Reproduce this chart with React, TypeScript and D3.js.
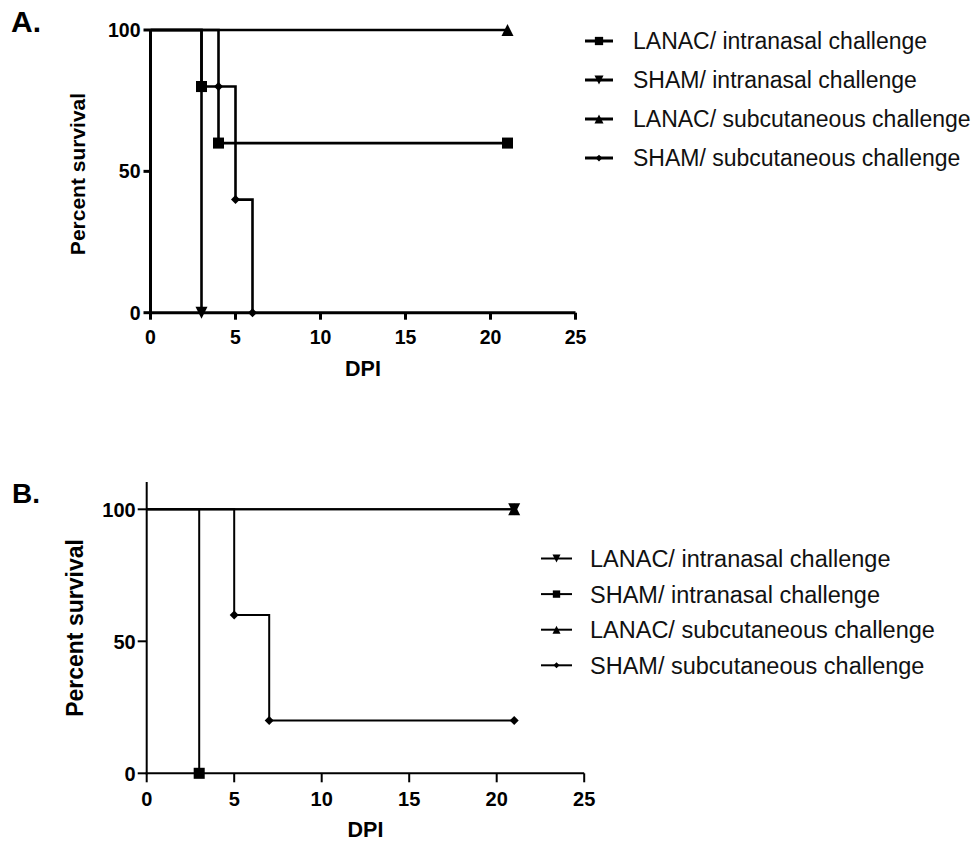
import React from "react";
import * as d3 from "d3";

// ---------- data ----------
const xTickValues = [0, 5, 10, 15, 20, 25];
const yTickValues = [0, 50, 100];

const seriesLabels = [
  "LANAC/ intranasal challenge",
  "SHAM/ intranasal challenge",
  "LANAC/ subcutaneous challenge",
  "SHAM/ subcutaneous challenge",
];

// Panel A
const aLanacInDays = [0, 3, 4, 21];
const aLanacInSurv = [100, 80, 60, 60];
const aShamInDays = [0, 3];
const aShamInSurv = [100, 0];
const aLanacScDays = [0, 21];
const aLanacScSurv = [100, 100];
const aShamScDays = [0, 4, 5, 6];
const aShamScSurv = [100, 80, 40, 0];
const aMarkers = ["square", "triDown", "triUp", "diamond"];

// Panel B
const bLanacInDays = [0, 21];
const bLanacInSurv = [100, 100];
const bShamInDays = [0, 3];
const bShamInSurv = [100, 0];
const bLanacScDays = [0, 21];
const bLanacScSurv = [100, 100];
const bShamScDays = [0, 5, 7, 21];
const bShamScSurv = [100, 60, 20, 20];
const bMarkers = ["triDown", "square", "triUp", "diamond"];

const FONT = "'Liberation Sans', Arial, Helvetica, sans-serif";

function markerPath(kind: string, r: number): string {
  switch (kind) {
    case "square":
      return `M${-r},${-r}h${2 * r}v${2 * r}h${-2 * r}Z`;
    case "triUp":
      return `M0,${-r}L${r},${r}L${-r},${r}Z`;
    case "triDown":
      return `M0,${r}L${r},${-r}L${-r},${-r}Z`;
    case "diamond":
      return `M0,${-r}L${r},0L0,${r}L${-r},0Z`;
  }
  return "";
}

function markerSize(kind: string, base: number) {
  if (kind === "diamond") return base * 0.75;
  if (kind === "square") return base * 0.92;
  return base;
}

type Series = { days: number[]; surv: number[]; marker: string; label: string };

type PanelProps = {
  series: Series[];
  x: d3.ScaleLinear<number, number>;
  y: d3.ScaleLinear<number, number>;
  yTop: number;
  sw: number;
  axisW: number;
  tickLen: number;
  tickFont: number;
  yLabelFont: number;
  yLabelX: number;
  yLabelY: number;
  dpiFont: number;
  dpiY: number;
  xLabelY: number;
  yLabelGap: number;
  markerBase: number;
  letter: string;
  letterX: number;
  letterY: number;
  letterFont: number;
  legendX0: number;
  legendX1: number;
  legendTextX: number;
  legendY0: number;
  legendDy: number;
  legendFont: number;
  legendSw: number;
  legendMarker: number;
};

function Panel(p: PanelProps) {
  const { x, y } = p;
  const line = d3
    .line<[number, number]>()
    .x((d) => x(d[0]))
    .y((d) => y(d[1]))
    .curve(d3.curveStepAfter);
  const x0 = x.range()[0];
  const y0 = y(0);
  return (
    <g>
      <text x={p.letterX} y={p.letterY} fontFamily={FONT} fontWeight="bold" fontSize={p.letterFont}>
        {p.letter}
      </text>
      {p.series.map((s, i) => {
        const pts = s.days.map((d, j) => [d, s.surv[j]] as [number, number]);
        return (
          <path key={"l" + i} d={line(pts) || ""} fill="none" stroke="#000" strokeWidth={p.sw} strokeLinejoin="miter" />
        );
      })}
      <line x1={x0} x2={x0} y1={p.yTop} y2={y0 + p.axisW / 2} stroke="#000" strokeWidth={p.axisW} />
      <line x1={x0 - p.axisW / 2} x2={x.range()[1]} y1={y0} y2={y0} stroke="#000" strokeWidth={p.axisW} />
      {yTickValues.map((t) => (
        <g key={"yt" + t}>
          <line x1={x0 - p.tickLen} x2={x0} y1={y(t)} y2={y(t)} stroke="#000" strokeWidth={p.axisW} />
          <text
            x={x0 - p.tickLen - p.yLabelGap}
            y={y(t) + p.tickFont * 0.36}
            textAnchor="end"
            fontFamily={FONT}
            fontWeight="bold"
            fontSize={p.tickFont}
          >
            {t}
          </text>
        </g>
      ))}
      {xTickValues.map((t) => (
        <g key={"xt" + t}>
          <line x1={x(t)} x2={x(t)} y1={y0} y2={y0 + p.tickLen} stroke="#000" strokeWidth={p.axisW} />
          <text x={x(t)} y={p.xLabelY} textAnchor="middle" fontFamily={FONT} fontWeight="bold" fontSize={p.tickFont}>
            {t}
          </text>
        </g>
      ))}
      <text
        x={(x.range()[0] + x.range()[1]) / 2}
        y={p.dpiY}
        textAnchor="middle"
        fontFamily={FONT}
        fontWeight="bold"
        fontSize={p.dpiFont}
      >
        DPI
      </text>
      <text
        transform={`translate(${p.yLabelX},${p.yLabelY}) rotate(-90)`}
        textAnchor="middle"
        fontFamily={FONT}
        fontWeight="bold"
        fontSize={p.yLabelFont}
        dy={p.yLabelFont * 0.36}
      >
        Percent survival
      </text>
      {p.series.map((s, i) =>
        s.days.slice(1).map((d, j) => (
          <path
            key={"m" + i + "_" + j}
            transform={`translate(${x(d)},${y(s.surv[j + 1])})`}
            d={markerPath(s.marker, markerSize(s.marker, p.markerBase))}
            fill="#000"
          />
        ))
      )}
      {p.series.map((s, i) => {
        const ly = p.legendY0 + i * p.legendDy;
        const mx = (p.legendX0 + p.legendX1) / 2;
        return (
          <g key={"lg" + i}>
            <line x1={p.legendX0} x2={p.legendX1} y1={ly} y2={ly} stroke="#000" strokeWidth={p.legendSw} />
            <path
              transform={`translate(${mx},${ly})`}
              d={markerPath(s.marker, markerSize(s.marker, p.legendMarker))}
              fill="#000"
            />
            <text x={p.legendTextX} y={ly + p.legendFont * 0.36} fontFamily={FONT} fontSize={p.legendFont} fill="#111">
              {s.label}
            </text>
          </g>
        );
      })}
    </g>
  );
}

export default function App() {
  const xA = d3.scaleLinear().domain([0, 25]).range([150.5, 575.5]);
  const yA = d3.scaleLinear().domain([0, 100]).range([312.7, 30]);
  const xB = d3.scaleLinear().domain([0, 25]).range([146.7, 584.2]);
  const yB = d3.scaleLinear().domain([0, 110]).range([773.3, 482.9]);

  const seriesA: Series[] = [
    { days: aLanacInDays, surv: aLanacInSurv, marker: aMarkers[0], label: seriesLabels[0] },
    { days: aShamInDays, surv: aShamInSurv, marker: aMarkers[1], label: seriesLabels[1] },
    { days: aLanacScDays, surv: aLanacScSurv, marker: aMarkers[2], label: seriesLabels[2] },
    { days: aShamScDays, surv: aShamScSurv, marker: aMarkers[3], label: seriesLabels[3] },
  ];
  const seriesB: Series[] = [
    { days: bLanacInDays, surv: bLanacInSurv, marker: bMarkers[0], label: seriesLabels[0] },
    { days: bShamInDays, surv: bShamInSurv, marker: bMarkers[1], label: seriesLabels[1] },
    { days: bLanacScDays, surv: bLanacScSurv, marker: bMarkers[2], label: seriesLabels[2] },
    { days: bShamScDays, surv: bShamScSurv, marker: bMarkers[3], label: seriesLabels[3] },
  ];

  return (
    <svg width={973} height={842} style={{ position: "absolute", left: 0, top: 0, background: "#fff" }}>
      <rect x={0} y={0} width={973} height={842} fill="#fff" />
      <Panel
        series={seriesA}
        x={xA}
        y={yA}
        yTop={30}
        sw={2.6}
        axisW={3}
        tickLen={7}
        tickFont={19.5}
        yLabelFont={21}
        yLabelX={77}
        yLabelY={174}
        dpiFont={21.5}
        dpiY={375.5}
        xLabelY={343.5}
        yLabelGap={3}
        markerBase={6}
        letter="A."
        letterX={11}
        letterY={32}
        letterFont={30}
        legendX0={585}
        legendX1={613}
        legendTextX={633}
        legendY0={41}
        legendDy={39}
        legendFont={23}
        legendSw={3}
        legendMarker={4.5}
      />
      <Panel
        series={seriesB}
        x={xB}
        y={yB}
        yTop={482}
        sw={2}
        axisW={2}
        tickLen={9}
        tickFont={20}
        yLabelFont={23}
        yLabelX={75}
        yLabelY={628}
        dpiFont={21.5}
        dpiY={836.5}
        xLabelY={806}
        yLabelGap={2}
        markerBase={6}
        letter="B."
        letterX={12}
        letterY={503}
        letterFont={28}
        legendX0={541}
        legendX1={572}
        legendTextX={590}
        legendY0={558.5}
        legendDy={35.6}
        legendFont={23.5}
        legendSw={2}
        legendMarker={4}
      />
    </svg>
  );
}
